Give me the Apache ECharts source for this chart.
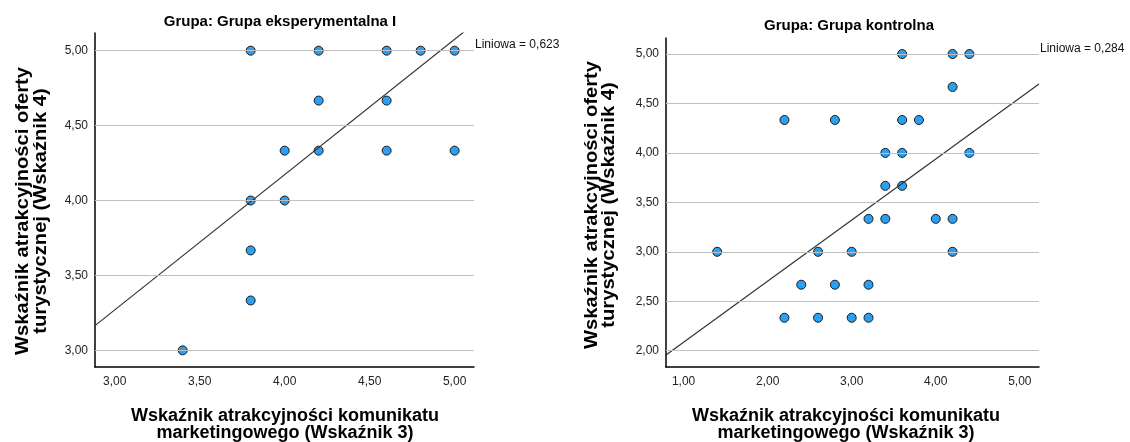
<!DOCTYPE html>
<html>
<head>
<meta charset="utf-8">
<script src="https://cdn.jsdelivr.net/npm/echarts@6/dist/echarts.min.js"></script>
<style>
html,body{margin:0;padding:0;background:#fff;}
#chart{width:1130px;height:442px;}
</style>
</head>
<body>
<div id="chart"></div>
<script>
// ---- data ----
const leftTitle = 'Grupa: Grupa eksperymentalna I';
const rightTitle = 'Grupa: Grupa kontrolna';
const leftX = [3.8, 4.2, 4.6, 4.8, 5.0, 4.2, 4.6, 4.0, 4.2, 4.6, 5.0, 3.8, 4.0, 3.8, 3.8, 3.4];
const leftY = [5.0, 5.0, 5.0, 5.0, 5.0, 4.667, 4.667, 4.333, 4.333, 4.333, 4.333, 4.0, 4.0, 3.667, 3.333, 3.0];
const rightX = [3.6, 4.2, 4.4, 4.2, 2.2, 2.8, 3.6, 3.8, 3.4, 3.6, 4.4, 3.4, 3.6, 3.2, 3.4, 4.0, 4.2, 1.4, 2.6, 3.0, 4.2, 2.4, 2.8, 3.2, 2.2, 2.6, 3.0, 3.2];
const rightY = [5.0, 5.0, 5.0, 4.667, 4.333, 4.333, 4.333, 4.333, 4.0, 4.0, 4.0, 3.667, 3.667, 3.333, 3.333, 3.333, 3.333, 3.0, 3.0, 3.0, 3.0, 2.667, 2.667, 2.667, 2.333, 2.333, 2.333, 2.333];
const leftFitX = [2.884, 5.114];
const leftFitY = [3.165, 5.179];
const rightFitX = [0.791, 5.228];
const rightFitY = [1.956, 4.696];
const leftXTicks = [3.0, 3.5, 4.0, 4.5, 5.0];
const leftYTicks = [3.0, 3.5, 4.0, 4.5, 5.0];
const rightXTicks = [1.0, 2.0, 3.0, 4.0, 5.0];
const rightYTicks = [2.0, 2.5, 3.0, 3.5, 4.0, 4.5, 5.0];
const leftFitLabel = 'Liniowa = 0,623';
const rightFitLabel = 'Liniowa = 0,284';
const yTitle = 'Wskaźnik atrakcyjności oferty\nturystycznej (Wskaźnik 4)';
const xTitle = 'Wskaźnik atrakcyjności komunikatu\nmarketingowego (Wskaźnik 3)';

// ---- build ----
const FONT = '"Liberation Sans", Arial, sans-serif';
const zip = (a, b) => a.map((v, i) => [v, b[i]]);
const fmt = v => Number(v).toFixed(2).replace('.', ',');

function xAxisOf(gi, min, max, ticks) {
  return {
    type: 'value', gridIndex: gi, min: min, max: max,
    axisLine: {show: true, onZero: false, lineStyle: {color: '#000', width: 1.5}},
    axisTick: {show: false},
    splitLine: {show: false},
    axisLabel: {customValues: ticks, formatter: fmt, color: '#222', fontSize: 12, fontFamily: FONT, margin: 9}
  };
}
function yAxisOf(gi, min, max, ticks) {
  return {
    type: 'value', gridIndex: gi, min: min, max: max,
    axisLine: {show: true, onZero: false, lineStyle: {color: '#000', width: 1.5}},
    axisTick: {show: false},
    splitLine: {show: false},
    axisLabel: {customValues: ticks, formatter: fmt, color: '#222', fontSize: 12, fontFamily: FONT, margin: 7}
  };
}
function gridSeries(gi, ticks) {
  return {
    type: 'scatter', xAxisIndex: gi, yAxisIndex: gi, data: [], z: 1, silent: true,
    markLine: {
      silent: true, symbol: ['none', 'none'], animation: false,
      label: {show: false},
      lineStyle: {type: 'solid', color: '#c0c0c0', width: 1},
      data: ticks.map(t => ({yAxis: t}))
    }
  };
}
function pointSeries(gi, xs, ys) {
  return {
    type: 'scatter', xAxisIndex: gi, yAxisIndex: gi, z: 2,
    data: zip(xs, ys), symbol: 'circle', symbolSize: 9,
    itemStyle: {color: '#2ba0f2', borderColor: '#1a1a1a', borderWidth: 1, opacity: 1}
  };
}
function fitSeries(gi, xs, ys) {
  return {
    type: 'line', xAxisIndex: gi, yAxisIndex: gi, z: 3, clip: true,
    data: zip(xs, ys), symbol: 'none', showSymbol: false,
    lineStyle: {color: '#333', width: 1.2}
  };
}
function textEl(x, y, text, size, weight, rot, lh, sx) {
  return {
    type: 'text', x: x, y: y, rotation: rot || 0, scaleX: sx || 1, silent: true,
    style: {text: text, fontSize: size, fontWeight: weight, fontFamily: FONT, fill: '#000',
            align: 'center', verticalAlign: 'middle', lineHeight: lh || size}
  };
}
function labelEl(x, y, text) {
  return {
    type: 'text', x: x, y: y, silent: true,
    style: {text: text, fontSize: 12, fontFamily: FONT, fill: '#111', align: 'left', verticalAlign: 'middle'}
  };
}

const chart = echarts.init(document.getElementById('chart'), null, {renderer: 'canvas'});
chart.setOption({
  animation: false,
  backgroundColor: '#fff',
  title: [
    {text: leftTitle, left: 280, top: 14, padding: 0, textAlign: 'center',
     textStyle: {fontSize: 15, fontWeight: 'bold', fontFamily: FONT, color: '#000'}},
    {text: rightTitle, left: 849, top: 18, padding: 0, textAlign: 'center',
     textStyle: {fontSize: 15, fontWeight: 'bold', fontFamily: FONT, color: '#000'}}
  ],
  grid: [
    {left: 95, right: 656, top: 33, bottom: 75},
    {left: 666, right: 91, top: 38, bottom: 75}
  ],
  xAxis: [xAxisOf(0, 2.884, 5.114, leftXTicks), xAxisOf(1, 0.791, 5.228, rightXTicks)],
  yAxis: [yAxisOf(0, 2.889, 5.118, leftYTicks), yAxisOf(1, 1.835, 5.162, rightYTicks)],
  series: [
    gridSeries(0, leftYTicks), pointSeries(0, leftX, leftY), fitSeries(0, leftFitX, leftFitY),
    gridSeries(1, rightYTicks), pointSeries(1, rightX, rightY), fitSeries(1, rightFitX, rightFitY)
  ],
  graphic: [
    labelEl(475, 45, leftFitLabel),
    labelEl(1040, 49, rightFitLabel),
    textEl(32, 211, yTitle, 18, 'bold', Math.PI / 2, 18, 1.12),
    textEl(601, 205, yTitle, 18, 'bold', Math.PI / 2, 17, 1.12),
    textEl(285, 425, xTitle, 18, 'bold', 0, 17),
    textEl(846, 425, xTitle, 18, 'bold', 0, 17)
  ]
});
</script>
</body>
</html>
